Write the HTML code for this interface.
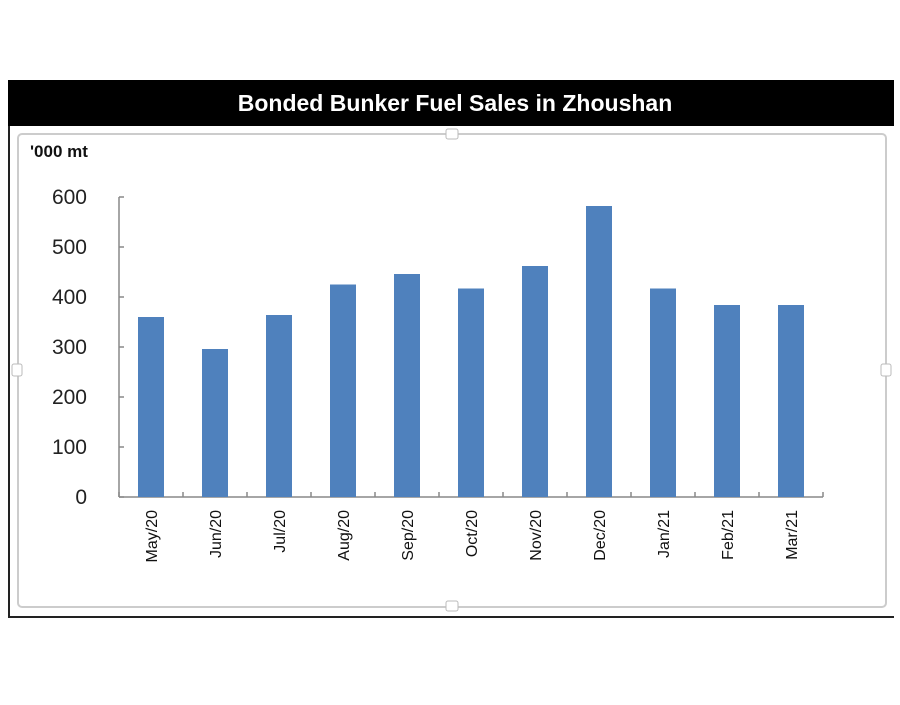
<!DOCTYPE html>
<html><head><meta charset="utf-8"><style>
body{margin:0;background:#fff;width:900px;height:700px;overflow:hidden;font-family:"Liberation Sans",Arial,sans-serif}
</style></head><body>
<svg width="900" height="700">
<rect x="8" y="80" width="886" height="46" fill="#000"/>
<text x="455" y="111" text-anchor="middle" fill="#fff" font-size="23" font-weight="bold">Bonded Bunker Fuel Sales in Zhoushan</text>
<rect x="8" y="126" width="2" height="492" fill="#222"/>
<rect x="8" y="616" width="886" height="2" fill="#222"/>
<rect x="18" y="134" width="868" height="473" rx="4" fill="none" stroke="#ccc" stroke-width="2"/>
<rect x="446" y="129" width="12" height="10" rx="2" fill="#fff" stroke="#bbb"/>
<rect x="446" y="601" width="12" height="10" rx="2" fill="#fff" stroke="#bbb"/>
<rect x="12" y="364" width="10" height="12" rx="2" fill="#fff" stroke="#bbb"/>
<rect x="881" y="364" width="10" height="12" rx="2" fill="#fff" stroke="#bbb"/>
<text x="30" y="157" font-size="17" font-weight="bold" fill="#111">'000 mt</text>
<g id="plot"></g>
</svg>
<script>
const categories=["May/20","Jun/20","Jul/20","Aug/20","Sep/20","Oct/20","Nov/20","Dec/20","Jan/21","Feb/21","Mar/21"];
const values=[360,296,364,425,446,417,462,582,417,384,384];
const yTicks=[0,100,200,300,400,500,600];
const NS="http://www.w3.org/2000/svg";
const g=document.getElementById('plot');
const x0=119,x1=823,yBase=497,yTop=197,yMax=600;
const band=(x1-x0)/categories.length;
const yS=v=>yBase-(v/yMax)*(yBase-yTop);
function mk(t,a){const e=document.createElementNS(NS,t);for(const k in a)e.setAttribute(k,a[k]);g.appendChild(e);return e;}
let ax=mk('line',{x1:x0,y1:yTop,x2:x0,y2:yBase,stroke:'#888','stroke-width':1.5});


let bx=mk('line',{x1:x0,y1:yBase,x2:x1,y2:yBase,stroke:'#888','stroke-width':1.5});


yTicks.forEach(v=>{
 const y=yS(v);
 let t=mk('line',{x1:x0,y1:y,x2:x0+5,y2:y,stroke:'#888','stroke-width':1.5});
 
 
 let l=mk('text',{x:87,y:y+7,'text-anchor':'end','font-size':21,fill:'#222'});
 l.textContent=v;
 
 
});
for(let i=0;i<=categories.length;i++){
 const x=x0+i*band;
 let t=mk('line',{x1:x,y1:yBase,x2:x,y2:yBase-5,stroke:'#888','stroke-width':1.5});
 
 
}
categories.forEach((c,i)=>{
 const cx=x0+(i+0.5)*band;
 const bw=26;
 let r=mk('rect',{x:cx-bw/2,y:yS(values[i]),width:bw,height:yBase-yS(values[i]),fill:'#4f81bd'});
 
 
 let l=mk('text',{x:cx+6,y:510,'text-anchor':'end','font-size':16,fill:'#111',transform:`rotate(-90 ${cx+6} 510)`});
 l.setAttribute('x',cx+6);
 l.textContent=c;
 
 
});
</script>
</body></html>
